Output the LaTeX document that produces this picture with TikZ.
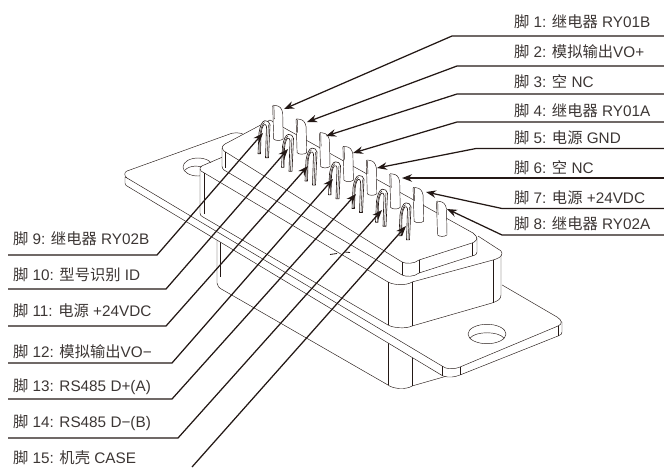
\documentclass[tikz,border=0pt]{standalone}
\usepackage{fontspec}
\setmainfont{Liberation Sans}
\newfontfamily\cjk{Noto Sans CJK SC}
\usetikzlibrary{arrows.meta}
\definecolor{myink}{RGB}{35,24,21}
\definecolor{mytext}{RGB}{60,54,52}
\tikzset{
connector/.style={x=1pt,y=-1pt}
,outline/.style={draw=myink,line width=.45pt,line join=round}
,mask/.style={fill=white,draw=none}
,solid face/.style={outline,fill=white}
,leader/.style={draw=myink,line width=1.25pt
  ,-{Stealth[length=10pt,width=7.5pt]}}
,pinlabel/.style={anchor=base west,inner sep=0pt,outer sep=0pt
  ,font=\fontsize{15.3}{17}\selectfont,text=mytext}
,blade/.pic={
  \path[solid face] (0,1) .. controls (0,0) and (1,0) .. (3,.5)
    .. controls (7,1) and (9,3) .. (10,8) -- (10.5,34)
    .. controls (8,36) and (3,36) .. (1,34) -- cycle;
  \path[outline] (1.2,1) -- (1.6,14);
}
,solder cup/.pic={
  \path[solid face,line width=.6pt] (-7,33) -- (-6,12)
    .. controls (-5,6) and (-3,0) .. (0,0)
    .. controls (2,0) and (5,1) .. (5,4) -- (3.5,37) -- (.5,37) -- (1.5,6)
    .. controls (1.5,4) and (0,3.5) .. (-1,4)
    .. controls (-3,6) and (-3.5,10) .. (-4,14) -- (-4.5,33) -- cycle;
  \path[outline] (-5.3,33) -- (-4.8,13) .. controls (-4,7) and (-2.5,3) .. (-.5,1.8);
  \path[outline] (2,37) -- (3.4,4);
}
}

\begin{document}
\begin{tikzpicture}[connector]
  \useasboundingbox (0,0) rectangle (664,467);
  % lower body
  \path[solid face] (217,236) -- (217,283) .. controls (217,286) and (219,288) .. (223,290)
    -- (388,385) .. controls (393,389) and (406,390) .. (412,386) -- (447,376)
    -- (447,340) -- cycle;
  \path[outline] (220,236) -- (220,277);
  \path[outline] (388,343) -- (388,385);
  \path[outline] (412,357) -- (412,386);
  % flange
  \path[solid face] (125,177) -- (125,183) .. controls (125,185) and (126,185) .. (127,186)
    -- (443,376) .. controls (449,378) and (455,377) .. (460,375) -- (558,336)
    .. controls (561,335) and (562,334) .. (562,332) -- (562,322) -- (450,300) -- cycle;
  \path[solid face] (127,171) -- (227,135) .. controls (233,132) and (240,132) .. (245,135)
    -- (557,317) .. controls (562,320) and (563,324) .. (558,326) -- (460,367)
    .. controls (452,370) and (446,369) .. (442,366) -- (127,178)
    .. controls (124,176) and (124,172) .. (127,171) -- cycle;
  \path[outline] (442,366) -- (442,376);
  \path[outline] (460,367) -- (460,375);
  \path[outline] (558,326) -- (558,336);
  % mounting holes
  \path[outline] (198,167) ellipse [x radius=15pt,y radius=9pt];
  \path[outline] (185,170) .. controls (190,165) and (200,165) .. (206,169);
  \path[outline] (487,334) ellipse [x radius=19pt,y radius=9.7pt];
  \path[outline] (470,338) .. controls (476,331) and (498,331) .. (504,338);
  % middle shell
  \path[mask] (200,168) -- (225,156) -- (260,125) -- (478,236) -- (498,249)
    -- (502,253) -- (502,297) -- (492,303) -- (412,326) -- (400,329) -- (388,325)
    -- (203,217) -- (200,213) -- cycle;
  \path[outline] (225,156) -- (204,165) .. controls (200,166.5) and (199,168) .. (201,171)
    -- (388,282) .. controls (393,285) and (406,286) .. (412,282) -- (493,260)
    .. controls (498,258.5) and (502,257) .. (502,253)
    .. controls (502,251) and (500,250) .. (498,249) -- (478,236);
  \path[outline] (200,169) -- (200,213) .. controls (200,215) and (201,216) .. (203,217)
    -- (388,325) .. controls (393,328) and (406,329) .. (412,326) -- (492,303)
    .. controls (498,301) and (501,299) .. (501,295) -- (501,255);
  \path[outline] (204,173) -- (204,214);
  \path[outline] (388,282) -- (388,325);
  \path[outline] (412,282) -- (412,326);
  \path[outline] (493,260) -- (493,303);
  % inner shell
  \path[solid face] (222,148) -- (222,166) .. controls (222,168) and (223,169) .. (224,170)
    -- (402,275) .. controls (406,277) and (414,277) .. (419,273) -- (472,256)
    .. controls (476,255) and (477,254) .. (477,252) -- (477,238) -- cycle;
  \path[solid face] (270,120) -- (225,144) .. controls (222,146) and (221,148) .. (224,151)
    -- (402,262) .. controls (406,264) and (414,264) .. (419,260) -- (472,243)
    .. controls (476,241.5) and (478,239) .. (476,236) -- (473,233) -- cycle;
  \path[outline] (225,152) -- (225,168);
  \path[outline] (402,262) -- (402,275);
  \path[outline] (419,260) -- (419,273);
  \path[outline] (472,243) -- (472,256);
  % centre mark
  \path[outline,line width=.8pt] (330,254.5) -- (337,253.5);
  \path[outline,line width=.8pt] (345,252) -- (350,252.5);
  % back row
  \foreach \i in {0,...,7}
    \pic at ({272.7+23.4*\i},{105+13.7*\i}) {blade};
  % front row
  \foreach \i in {0,...,6}
    \pic at ({265+23.5*\i},{120.7+13.7*\i}) {solder cup};
  % leaders on the right
  \foreach \n/\ly/\bx/\tx/\ty in {1/36/452/284/109,2/66/457/307/122,3/94/457/326/136
    ,4/122/457/353/153,5/148.5/476/377/168,6/178/500/402/178,7/208.5/502/426/192
    ,8/235/502/447/209}{
    \coordinate (end\n) at (664,\ly);
    \coordinate (bend\n) at (\bx,\ly);
    \coordinate (tip\n) at (\tx,\ty);
    \draw[leader] (end\n) -- (bend\n) -- (tip\n);
  }
  % leaders on the left
  \foreach \n/\ly/\bx/\tx/\ty in {9/255/157/263/133,10/289/166/288/149,11/326/166/308/166
    ,12/363/172/333/179,13/399/172/356/194,14/438/178/382/210}{
    \coordinate (end\n) at (8,\ly);
    \coordinate (bend\n) at (\bx,\ly);
    \coordinate (tip\n) at (\tx,\ty);
    \draw[leader] (end\n) -- (bend\n) -- (tip\n);
  }
  \coordinate (end15) at (192,467);
  \coordinate (tip15) at (406,226);
  \draw[leader] (end15) -- (tip15);
  % labels
  \node[pinlabel] (lab1) at (514,27) {{\cjk 脚} 1: {\cjk 继电器} RY01B};
  \node[pinlabel] (lab2) at (514,57) {{\cjk 脚} 2: {\cjk 模拟输出}VO+};
  \node[pinlabel] (lab3) at (514,87) {{\cjk 脚} 3: {\cjk 空} NC};
  \node[pinlabel] (lab4) at (514,116) {{\cjk 脚} 4: {\cjk 继电器} RY01A};
  \node[pinlabel] (lab5) at (514,143.5) {{\cjk 脚} 5: {\cjk 电源} GND};
  \node[pinlabel] (lab6) at (514,173.5) {{\cjk 脚} 6: {\cjk 空} NC};
  \node[pinlabel] (lab7) at (514,203.5) {{\cjk 脚} 7: {\cjk 电源} +24VDC};
  \node[pinlabel] (lab8) at (514,229.5) {{\cjk 脚} 8: {\cjk 继电器} RY02A};
  \node[pinlabel] (lab9) at (13,244) {{\cjk 脚} 9: {\cjk 继电器} RY02B};
  \node[pinlabel] (lab10) at (13,280) {{\cjk 脚} 10: {\cjk 型号识别} ID};
  \node[pinlabel] (lab11) at (13,316) {{\cjk 脚} 11: {\cjk 电源} +24VDC};
  \node[pinlabel] (lab12) at (13,357) {{\cjk 脚} 12: {\cjk 模拟输出}VO−};
  \node[pinlabel] (lab13) at (13,391) {{\cjk 脚} 13: RS485 D+(A)};
  \node[pinlabel] (lab14) at (13,427) {{\cjk 脚} 14: RS485 D−(B)};
  \node[pinlabel] (lab15) at (13,463) {{\cjk 脚} 15: {\cjk 机壳} CASE};
\end{tikzpicture}
\end{document}
